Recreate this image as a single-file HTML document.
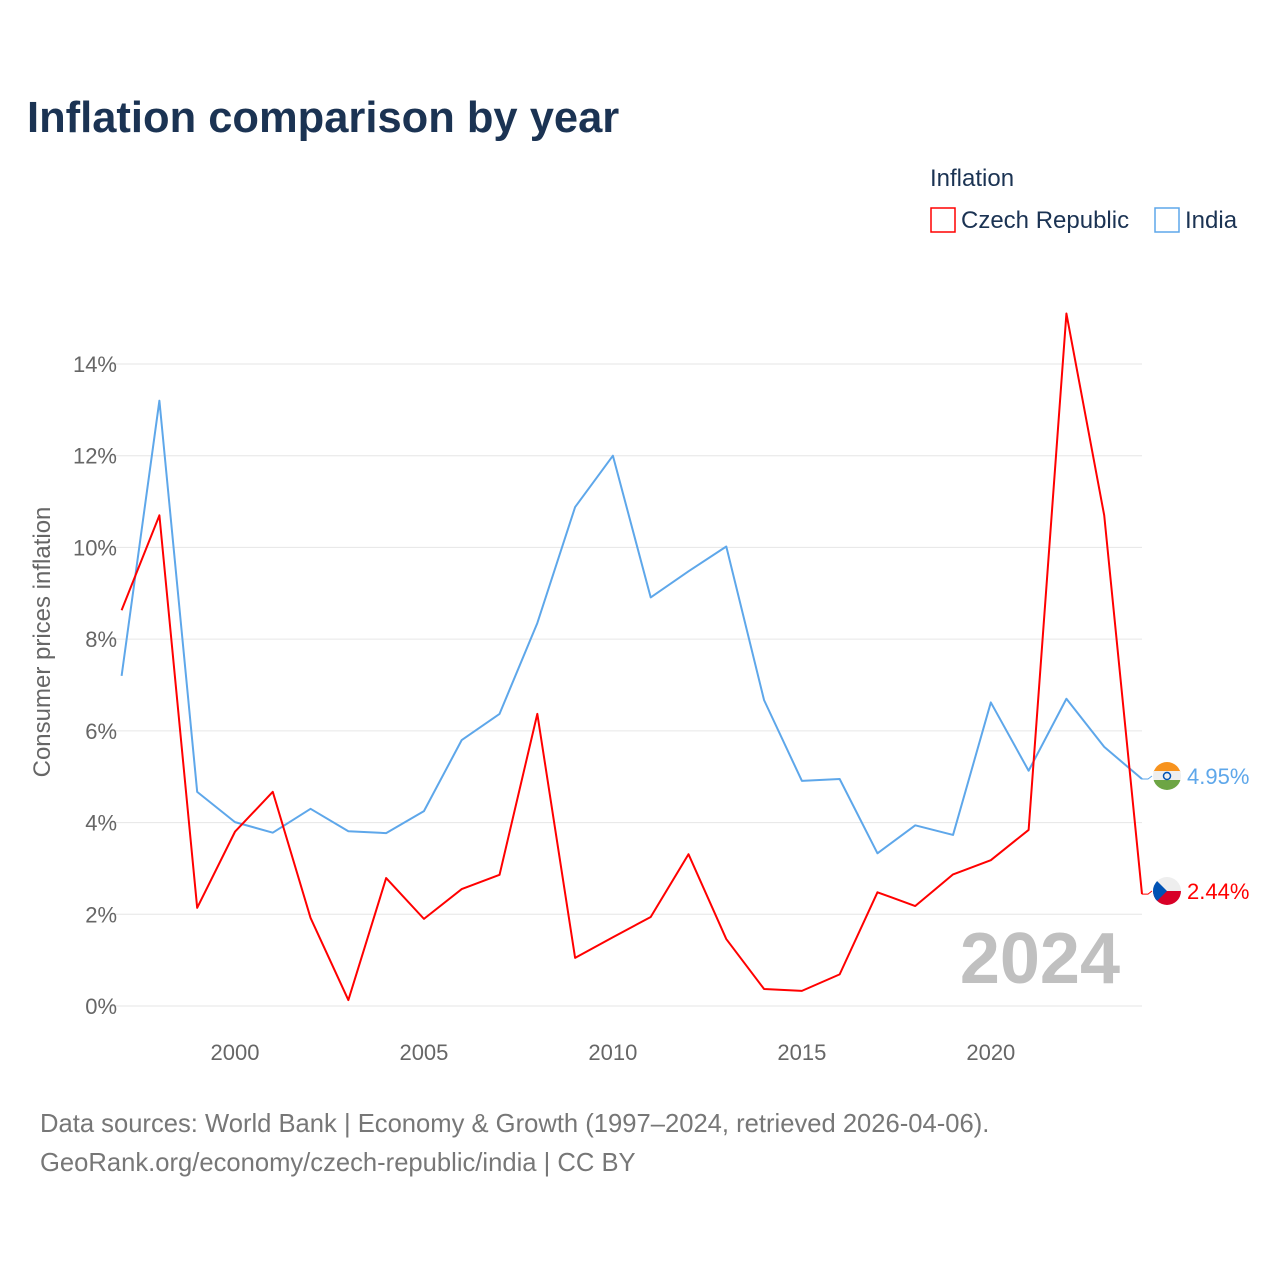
<!DOCTYPE html>
<html><head><meta charset="utf-8"><style>
body{margin:0;background:#fff;font-family:"Liberation Sans","DejaVu Sans",sans-serif;}
svg text{font-family:"Liberation Sans","DejaVu Sans",sans-serif;}
</style></head><body>
<svg id="c" width="1280" height="1280" viewBox="0 0 1280 1280" xmlns="http://www.w3.org/2000/svg">
<defs>
<clipPath id="cin"><circle cx="1167" cy="776" r="14"/></clipPath>
<clipPath id="ccz"><circle cx="1167" cy="891" r="14"/></clipPath>
</defs>
<text x="27" y="132" font-size="43.5" font-weight="bold" fill="#1b3353">Inflation comparison by year</text>
<g>
<text x="930" y="186" font-size="24" fill="#1b3353">Inflation</text>
<g><rect x="931" y="208" width="24" height="24" fill="none" stroke="#ff0000" stroke-width="1.5"/><text x="961" y="228" font-size="24" fill="#1b3353">Czech Republic</text></g>
<g><rect x="1155" y="208" width="24" height="24" fill="none" stroke="#5ea7ea" stroke-width="1.5"/><text x="1185" y="228" font-size="24" fill="#1b3353">India</text></g>
</g>
<g id="grid"></g>
<g id="yt"></g>
<g id="xt"></g>
<text transform="translate(50,642) rotate(-90)" text-anchor="middle" font-size="24" fill="#666">Consumer prices inflation</text>
<text x="1120" y="983" text-anchor="end" font-size="72" font-weight="bold" fill="#c0c0c0">2024</text>
<g id="series"></g>
<g clip-path="url(#cin)">
<rect x="1153" y="762" width="28" height="10" fill="#f7931e"/><rect x="1153" y="771" width="28" height="10" fill="#eeeeee"/><rect x="1153" y="780" width="28" height="10" fill="#6da544"/><circle cx="1167" cy="776" r="3.5" fill="none" stroke="#0052b4" stroke-width="1.5"/>
</g>
<g clip-path="url(#ccz)">
<rect x="1153" y="877" width="28" height="14" fill="#eeeeee"/><rect x="1153" y="891" width="28" height="14" fill="#d80027"/><polygon points="1153,877 1167,891 1153,905" fill="#0052b4"/>
</g>
<text x="40" y="1132" font-size="25.6" fill="#777">Data sources: World Bank | Economy &amp; Growth (1997–2024, retrieved 2026-04-06).</text>
<text x="40" y="1171" font-size="25.6" fill="#777">GeoRank.org/economy/czech-republic/india | CC BY</text>
</svg>
<script>
const years=[1997,1998,1999,2000,2001,2002,2003,2004,2005,2006,2007,2008,2009,2010,2011,2012,2013,2014,2015,2016,2017,2018,2019,2020,2021,2022,2023,2024];
const czech=[8.63,10.7,2.14,3.8,4.67,1.92,0.13,2.79,1.9,2.55,2.86,6.37,1.05,1.5,1.94,3.31,1.46,0.37,0.33,0.69,2.48,2.18,2.87,3.18,3.84,15.1,10.7,2.44];
const india=[7.2,13.2,4.67,4.01,3.78,4.3,3.81,3.77,4.25,5.8,6.37,8.35,10.88,12.0,8.91,9.48,10.02,6.67,4.91,4.95,3.33,3.94,3.73,6.62,5.13,6.7,5.65,4.95];
const yTicks=[0,2,4,6,8,10,12,14];
const xTicks=[2000,2005,2010,2015,2020];
const NS="http://www.w3.org/2000/svg";
const X=y=>121.6+(y-1997)*(1142-121.6)/27;
const Y=v=>1006-v*(1006-364)/14;
function mk(t,a,p){const e=document.createElementNS(NS,t);for(const k in a)e.setAttribute(k,a[k]);p.appendChild(e);return e;}
const g=document.getElementById('grid'),yt=document.getElementById('yt'),xt=document.getElementById('xt'),s=document.getElementById('series');
yTicks.forEach(v=>{const l=mk('line',{x1:110,x2:1142,y1:Y(v),y2:Y(v),stroke:'#e6e6e6','stroke-width':1},g);


const t=mk('text',{x:117,y:Y(v)+8,'text-anchor':'end','font-size':22,fill:'#666'},yt);t.textContent=v+'%';

});
xTicks.forEach(v=>{const t=mk('text',{x:X(v),y:1060,'text-anchor':'middle','font-size':22,fill:'#666'},xt);t.textContent=v;

});
function line(d,c,name,ly){const p=mk('polyline',{points:d.map((v,i)=>X(years[i])+','+Y(v)).join(' '),fill:'none',stroke:c,'stroke-width':2,'stroke-linejoin':'round'},s);


const v=d[d.length-1],y=Y(v);
mk('polyline',{points:`1142,${y} 1148,${y} 1152,${ly}`,fill:'none',stroke:c,'stroke-width':1},s);
const t=mk('text',{x:1187,y:ly+8,'font-size':22,fill:c},s);t.textContent=v.toFixed(2)+'%';

}
line(india,'#5ea7ea','india-line',776);
line(czech,'#ff0000','czech-line',891);
</script>
</body></html>
